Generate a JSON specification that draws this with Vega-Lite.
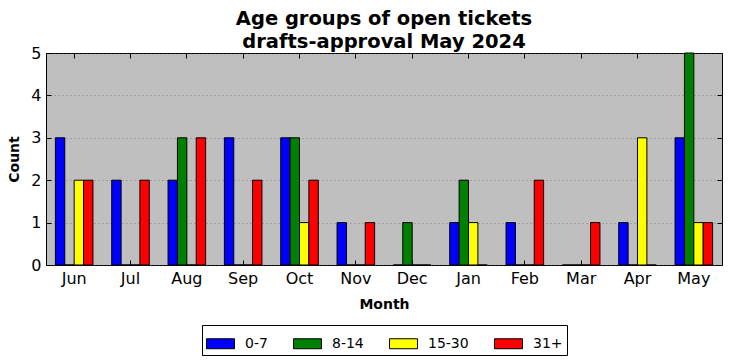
{
  "$schema": "https://vega.github.io/schema/vega-lite/v6.json",
  "width": 676,
  "height": 212,
  "autosize": {"type": "none"},
  "padding": {"left": 46, "top": 53, "right": 10, "bottom": 96},
  "background": "white",
  "title": {
    "text": ["Age groups of open tickets", "drafts-approval May 2024"],
    "font": "DejaVu Sans",
    "fontSize": 19.5,
    "fontWeight": "bold",
    "lineHeight": 22.5,
    "anchor": "middle",
    "offset": 5,
    "dy": 12,
    "color": "black"
  },
  "config": {
    "view": {"fill": "#bfbfbf", "stroke": "black", "strokeWidth": 1},
    "font": "DejaVu Sans",
    "axis": {
      "labelFont": "DejaVu Sans",
      "labelFontSize": 16,
      "labelColor": "black",
      "titleFont": "DejaVu Sans",
      "titleFontSize": 14,
      "titleFontWeight": "bold",
      "titleColor": "black",
      "domain": false,
      "tickColor": "black",
      "tickSize": -5,
      "tickWidth": 1
    }
  },
  "data": {
    "values": [
      {"month": "Jun", "age": "0-7", "count": 3}, {"month": "Jun", "age": "8-14", "count": 0}, {"month": "Jun", "age": "15-30", "count": 2}, {"month": "Jun", "age": "31+", "count": 2},
      {"month": "Jul", "age": "0-7", "count": 2}, {"month": "Jul", "age": "8-14", "count": 0}, {"month": "Jul", "age": "15-30", "count": 0}, {"month": "Jul", "age": "31+", "count": 2},
      {"month": "Aug", "age": "0-7", "count": 2}, {"month": "Aug", "age": "8-14", "count": 3}, {"month": "Aug", "age": "15-30", "count": 0}, {"month": "Aug", "age": "31+", "count": 3},
      {"month": "Sep", "age": "0-7", "count": 3}, {"month": "Sep", "age": "8-14", "count": 0}, {"month": "Sep", "age": "15-30", "count": 0}, {"month": "Sep", "age": "31+", "count": 2},
      {"month": "Oct", "age": "0-7", "count": 3}, {"month": "Oct", "age": "8-14", "count": 3}, {"month": "Oct", "age": "15-30", "count": 1}, {"month": "Oct", "age": "31+", "count": 2},
      {"month": "Nov", "age": "0-7", "count": 1}, {"month": "Nov", "age": "8-14", "count": 0}, {"month": "Nov", "age": "15-30", "count": 0}, {"month": "Nov", "age": "31+", "count": 1},
      {"month": "Dec", "age": "0-7", "count": 0}, {"month": "Dec", "age": "8-14", "count": 1}, {"month": "Dec", "age": "15-30", "count": 0}, {"month": "Dec", "age": "31+", "count": 0},
      {"month": "Jan", "age": "0-7", "count": 1}, {"month": "Jan", "age": "8-14", "count": 2}, {"month": "Jan", "age": "15-30", "count": 1}, {"month": "Jan", "age": "31+", "count": 0},
      {"month": "Feb", "age": "0-7", "count": 1}, {"month": "Feb", "age": "8-14", "count": 0}, {"month": "Feb", "age": "15-30", "count": 0}, {"month": "Feb", "age": "31+", "count": 2},
      {"month": "Mar", "age": "0-7", "count": 0}, {"month": "Mar", "age": "8-14", "count": 0}, {"month": "Mar", "age": "15-30", "count": 0}, {"month": "Mar", "age": "31+", "count": 1},
      {"month": "Apr", "age": "0-7", "count": 1}, {"month": "Apr", "age": "8-14", "count": 0}, {"month": "Apr", "age": "15-30", "count": 3}, {"month": "Apr", "age": "31+", "count": 0},
      {"month": "May", "age": "0-7", "count": 3}, {"month": "May", "age": "8-14", "count": 5}, {"month": "May", "age": "15-30", "count": 1}, {"month": "May", "age": "31+", "count": 1}
    ]
  },
  "resolve": {"axis": {"x": "independent", "y": "independent"}},
  "layer": [
    {
      "mark": {"type": "bar", "stroke": "black", "strokeWidth": 1, "opacity": 1},
      "encoding": {
        "x": {
          "field": "month",
          "type": "nominal",
          "sort": ["Jun", "Jul", "Aug", "Sep", "Oct", "Nov", "Dec", "Jan", "Feb", "Mar", "Apr", "May"],
          "scale": {"paddingInner": 0.3333, "paddingOuter": 0.1667},
          "axis": {"title": "Month", "orient": "bottom", "labelAngle": 0, "labelPadding": 10, "titlePadding": 11, "grid": false}
        },
        "xOffset": {
          "field": "age",
          "type": "nominal",
          "sort": ["0-7", "8-14", "15-30", "31+"],
          "scale": {"paddingInner": 0, "paddingOuter": 0}
        },
        "y": {
          "field": "count",
          "type": "quantitative",
          "scale": {"domain": [0, 5], "nice": false},
          "axis": {"title": "Count", "orient": "left", "values": [0, 1, 2, 3, 4, 5], "labelPadding": 10, "titlePadding": 9, "grid": true, "gridColor": "#555555", "gridDash": [1, 3], "gridWidth": 0.6}
        },
        "color": {
          "field": "age",
          "type": "nominal",
          "sort": ["0-7", "8-14", "15-30", "31+"],
          "scale": {"domain": ["0-7", "8-14", "15-30", "31+"], "range": ["#0000ff", "#008000", "#ffff00", "#ff0000"]},
          "legend": {
            "title": null,
            "orient": "none",
            "legendX": 156,
            "legendY": 272,
            "direction": "horizontal",
            "columns": 4,
            "symbolType": "M-1,-0.357L1,-0.357L1,0.357L-1,0.357Z",
            "symbolSize": 784,
            "symbolStrokeColor": "black",
            "symbolStrokeWidth": 1,
            "symbolOpacity": 1,
            "labelFont": "DejaVu Sans",
            "labelFontSize": 14,
            "labelColor": "black",
            "labelOffset": 10,
            "columnPadding": 23,
            "padding": 4,
            "strokeColor": "black",
            "fillColor": "white",
            "cornerRadius": 0
          }
        }
      }
    },
    {
      "mark": {"type": "bar", "opacity": 0},
      "encoding": {
        "x": {
          "field": "month",
          "type": "nominal",
          "sort": ["Jun", "Jul", "Aug", "Sep", "Oct", "Nov", "Dec", "Jan", "Feb", "Mar", "Apr", "May"],
          "axis": {"title": null, "orient": "top", "labels": false, "grid": false}
        },
        "xOffset": {
          "field": "age",
          "type": "nominal",
          "sort": ["0-7", "8-14", "15-30", "31+"]
        },
        "y": {
          "field": "count",
          "type": "quantitative",
          "axis": {"title": null, "orient": "right", "labels": false, "values": [0, 1, 2, 3, 4, 5], "grid": false}
        }
      }
    }
  ]
}
